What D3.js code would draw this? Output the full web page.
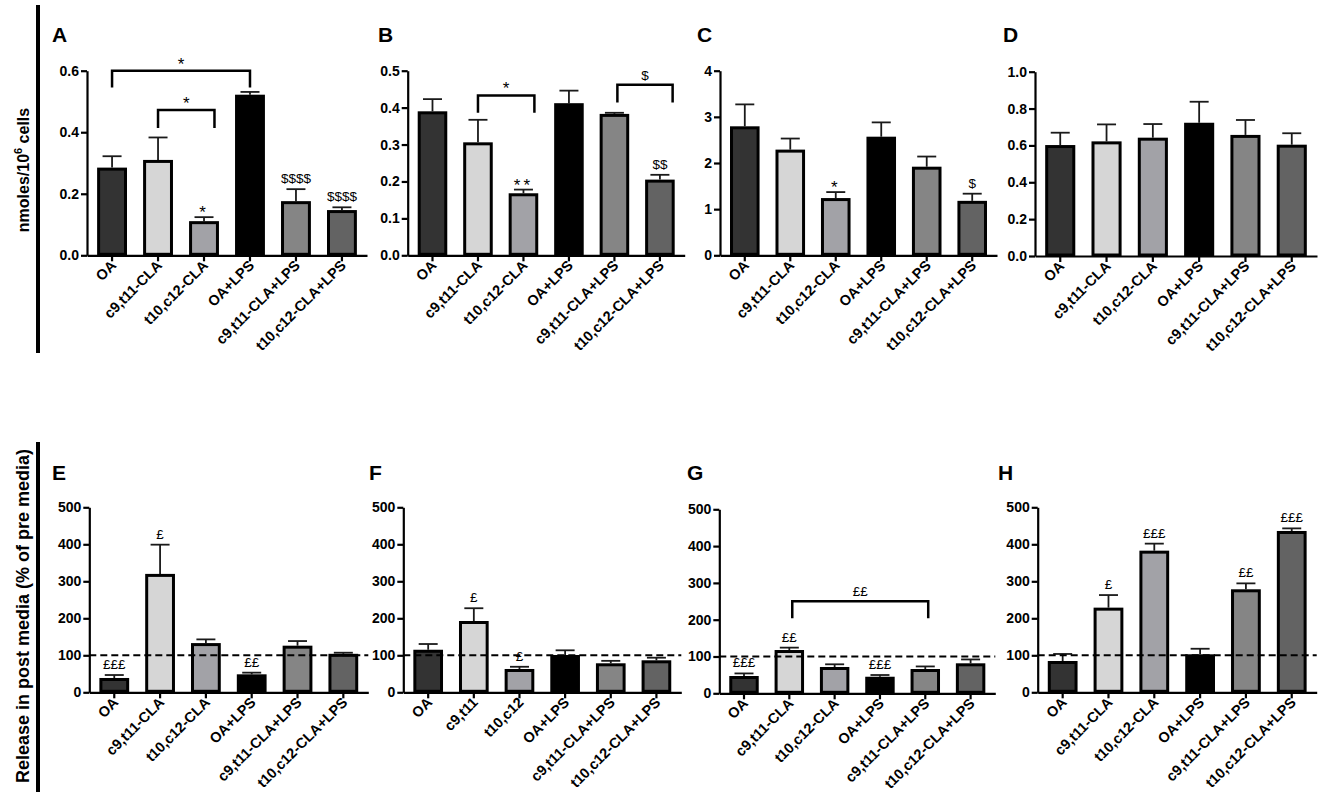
<!DOCTYPE html>
<html>
<head>
<meta charset="utf-8">
<script src="https://cdn.jsdelivr.net/npm/d3@7"></script>
<style>
  body { margin: 0; background: #fff; }
  text { font-family: "Liberation Sans", Arial, sans-serif; fill: #000; }
</style>
</head>
<body>
<div id="chart"></div>
<script>
// categories on the x axes
const categories = ["OA", "c9,t11-CLA", "t10,c12-CLA", "OA+LPS", "c9,t11-CLA+LPS", "t10,c12-CLA+LPS"];
const categoriesF = ["OA", "c9,t11", "t10,c12", "OA+LPS", "c9,t11-CLA+LPS", "t10,c12-CLA+LPS"];

// bar means and SEM (upper whisker) per panel
const meansA = [0.285, 0.31, 0.111, 0.522, 0.176, 0.147];
const semsA  = [0.037, 0.073, 0.013, 0.009, 0.039, 0.009];
const meansB = [0.39, 0.306, 0.168, 0.412, 0.383, 0.205];
const semsB  = [0.033, 0.061, 0.01, 0.034, 0.003, 0.013];
const meansC = [2.795, 2.29, 1.24, 2.57, 1.92, 1.18];
const semsC  = [0.475, 0.24, 0.13, 0.31, 0.22, 0.155];
const meansD = [0.602, 0.622, 0.642, 0.723, 0.657, 0.604];
const semsD  = [0.067, 0.092, 0.074, 0.114, 0.081, 0.062];
const meansE = [38.7, 320, 133, 48.6, 126, 104];
const semsE  = [8, 79, 10, 4.5, 12.5, 3];
const meansF = [115, 192.7, 63, 100.8, 78.4, 86.5];
const semsF  = [15.5, 34.5, 6, 12.7, 6.6, 7];
const meansG = [47, 117.6, 71.5, 45, 66, 81.5];
const semsG  = [7, 6.5, 7.3, 4.7, 7, 10.5];
const meansH = [84.6, 228.8, 382.8, 102.7, 278.4, 436];
const semsH  = [19, 34, 19, 15, 16, 7];

// y tick values
const ticksA = [0, 0.2, 0.4, 0.6];
const ticksB = [0, 0.1, 0.2, 0.3, 0.4, 0.5];
const ticksC = [0, 1, 2, 3, 4];
const ticksD = [0, 0.2, 0.4, 0.6, 0.8, 1.0];
const ticksRelease = [0, 100, 200, 300, 400, 500];

const barColors = ["#333333", "#d6d6d6", "#a2a2a7", "#000000", "#858585", "#636363"];

// significance marks above single bars
const barMarks = [
  { p: "A", i: 2, t: "*" }, { p: "A", i: 4, t: "$$$$" }, { p: "A", i: 5, t: "$$$$" },
  { p: "B", i: 2, t: "**" }, { p: "B", i: 5, t: "$$" },
  { p: "C", i: 2, t: "*" }, { p: "C", i: 5, t: "$" },
  { p: "E", i: 0, t: "£££" }, { p: "E", i: 1, t: "£" }, { p: "E", i: 3, t: "££" },
  { p: "F", i: 1, t: "£" }, { p: "F", i: 2, t: "£" },
  { p: "G", i: 0, t: "£££" }, { p: "G", i: 1, t: "££" }, { p: "G", i: 3, t: "£££" },
  { p: "H", i: 1, t: "£" }, { p: "H", i: 2, t: "£££" }, { p: "H", i: 4, t: "££" }, { p: "H", i: 5, t: "£££" }
];

// comparison brackets: from/to category, bracket level, leg end
const brackets = [
  { p: "A", from: 0, to: 3, top: 0.6, leg: 0.545, t: "*" },
  { p: "A", from: 1, to: 2, top: 0.472, leg: 0.414, t: "*", nudgeTo: 0.35 },
  { p: "B", from: 1, to: 2, top: 0.433, leg: 0.386, t: "*", nudgeTo: 0.37 },
  { p: "B", from: 4, to: 5, top: 0.462, leg: 0.414, t: "$", nudgeFrom: 0.1, nudgeTo: 0.43 },
  { p: "G", from: 1, to: 4, top: 250, leg: 204, t: "££", nudgeFrom: 0.1, nudgeTo: 0.1 }
];

const panelData = [
  { id: "A", cats: categories,  means: meansA, sems: semsA, ticks: ticksA, fmt: ".1f" },
  { id: "B", cats: categories,  means: meansB, sems: semsB, ticks: ticksB, fmt: ".1f" },
  { id: "C", cats: categories,  means: meansC, sems: semsC, ticks: ticksC, fmt: "d" },
  { id: "D", cats: categories,  means: meansD, sems: semsD, ticks: ticksD, fmt: ".1f" },
  { id: "E", cats: categories,  means: meansE, sems: semsE, ticks: ticksRelease, fmt: "d", ref: 100 },
  { id: "F", cats: categoriesF, means: meansF, sems: semsF, ticks: ticksRelease, fmt: "d", ref: 100 },
  { id: "G", cats: categories,  means: meansG, sems: semsG, ticks: ticksRelease, fmt: "d", ref: 100 },
  { id: "H", cats: categories,  means: meansH, sems: semsH, ticks: ticksRelease, fmt: "d", ref: 100 }
];

// layout (pixels): axis origin, x-axis length, baseline and top of y axis, panel letter position
const layout = {
  A: { x0: 87,    len: 280, y0: 255.3, y1: 70.7,  lx: 52,  ly: 42 },
  B: { x0: 407.7, len: 277, y0: 255.3, y1: 70.7,  lx: 378, ly: 42 },
  C: { x0: 720,   len: 277, y0: 255.3, y1: 70.7,  lx: 697, ly: 42 },
  D: { x0: 1035,  len: 282, y0: 256,   y1: 71.7,  lx: 1003, ly: 42 },
  E: { x0: 89.3,  len: 279, y0: 692.3, y1: 507.3, lx: 52,  ly: 480 },
  F: { x0: 403.3, len: 278, y0: 692.3, y1: 507.3, lx: 369, ly: 480 },
  G: { x0: 719.3, len: 276, y0: 693.3, y1: 509.3, lx: 687, ly: 480 },
  H: { x0: 1037.7, len: 279, y0: 692.3, y1: 507.3, lx: 998, ly: 480 }
};

const width = 1325, height = 800;
const tickFont = "14px";
const catFont = "14.5px";

const svg = d3.select("#chart").append("svg")
  .attr("width", width)
  .attr("height", height);

// vertical separator bars and row titles
svg.append("rect").attr("x", 36).attr("y", 5).attr("width", 4).attr("height", 348).attr("fill", "#000");
svg.append("rect").attr("x", 36).attr("y", 442).attr("width", 4).attr("height", 350).attr("fill", "#000");

const t1 = svg.append("text")
  .attr("transform", "translate(29,170) rotate(-90)")
  .attr("text-anchor", "middle")
  .style("font-size", "16px").style("font-weight", "bold");
t1.append("tspan").text("nmoles/10");
t1.append("tspan").attr("dy", -7).style("font-size", "11px").text("6");
t1.append("tspan").attr("dy", 7).text(" cells");

svg.append("text")
  .attr("transform", "translate(29,616) rotate(-90)")
  .attr("text-anchor", "middle")
  .style("font-size", "18px").style("font-weight", "bold")
  .text("Release in post media (% of pre media)");

const scales = {};

panelData.forEach(function (pd) {
  const L = layout[pd.id];
  const x = d3.scaleBand().domain(pd.cats).range([L.x0, L.x0 + L.len])
    .paddingInner(0.35).paddingOuter(0.22);
  const y = d3.scaleLinear().domain([0, d3.max(pd.ticks)]).range([L.y0, L.y1]);
  scales[pd.id] = { x: x, y: y, pd: pd };

  const g = svg.append("g");

  // panel letter
  g.append("text")
    .attr("x", L.lx).attr("y", L.ly)
    .style("font-size", "21px").style("font-weight", "bold")
    .text(pd.id);

  const rows = pd.cats.map(function (c, i) {
    return { cat: c, mean: pd.means[i], sem: pd.sems[i], color: barColors[i] };
  });

  // error whiskers
  const cx = function (d) { return x(d.cat) + x.bandwidth() / 2; };
  g.selectAll(".err").data(rows).enter().append("line")
    .attr("x1", cx).attr("x2", cx)
    .attr("y1", function (d) { return y(d.mean); })
    .attr("y2", function (d) { return y(d.mean + d.sem); })
    .attr("stroke", "#1a1a1a").attr("stroke-width", 1.8);
  g.selectAll(".cap").data(rows).enter().append("line")
    .attr("x1", function (d) { return cx(d) - 9.5; })
    .attr("x2", function (d) { return cx(d) + 9.5; })
    .attr("y1", function (d) { return y(d.mean + d.sem); })
    .attr("y2", function (d) { return y(d.mean + d.sem); })
    .attr("stroke", "#1a1a1a").attr("stroke-width", 1.8);

  // bars
  g.selectAll(".bar").data(rows).enter().append("rect")
    .attr("x", function (d) { return x(d.cat) + 1.5; })
    .attr("y", function (d) { return y(d.mean) + 1.5; })
    .attr("width", x.bandwidth() - 3)
    .attr("height", function (d) { return Math.max(0, y(0) - y(d.mean) - 2.5); })
    .attr("fill", function (d) { return d.color; })
    .attr("stroke", "#000").attr("stroke-width", 3);

  // reference line at 100 %
  if (pd.ref) {
    g.append("line")
      .attr("x1", L.x0).attr("x2", L.x0 + L.len)
      .attr("y1", y(pd.ref)).attr("y2", y(pd.ref))
      .attr("stroke", "#000").attr("stroke-width", 2)
      .attr("stroke-dasharray", "7,4");
  }

  // y axis
  const yAxis = g.append("g")
    .attr("transform", "translate(" + L.x0 + ",0)")
    .call(d3.axisLeft(y).tickValues(pd.ticks).tickFormat(d3.format(pd.fmt))
      .tickSize(6).tickSizeOuter(0).tickPadding(2));
  yAxis.select(".domain").attr("stroke-width", 2.2);
  yAxis.selectAll(".tick line").attr("stroke-width", 2.2);
  yAxis.selectAll("text").attr("fill", "#000")
    .style("font-size", tickFont).style("font-weight", "bold")
    .style("font-family", "'Liberation Sans', Arial, sans-serif");

  // x axis
  const xAxis = g.append("g")
    .attr("transform", "translate(0," + L.y0 + ")")
    .call(d3.axisBottom(x).tickSize(6).tickSizeOuter(0));
  xAxis.select(".domain").attr("stroke-width", 2.2);
  xAxis.selectAll(".tick line").attr("stroke-width", 2.2);
  xAxis.selectAll("text")
    .attr("x", 0).attr("y", 0).attr("dy", null)
    .attr("transform", "translate(5,11) rotate(-45)")
    .style("text-anchor", "end")
    .attr("fill", "#000")
    .style("font-size", catFont).style("font-weight", "bold")
    .style("font-family", "'Liberation Sans', Arial, sans-serif");
});

// marks above single bars
barMarks.forEach(function (m) {
  const s = scales[m.p];
  const top = s.y(s.pd.means[m.i] + s.pd.sems[m.i]);
  const star = m.t.indexOf("*") >= 0;
  svg.append("text")
    .attr("x", s.x(s.pd.cats[m.i]) + s.x.bandwidth() / 2)
    .attr("y", star ? top + 1 : top - 6)
    .attr("text-anchor", "middle")
    .attr("fill", "#000")
    .style("font-size", star ? "17px" : "13.5px")
    .style("letter-spacing", star ? "3px" : "0px")
    .text(m.t);
});

// brackets
brackets.forEach(function (b) {
  const s = scales[b.p];
  const bw = s.x.bandwidth();
  const xa = s.x(s.pd.cats[b.from]) + bw / 2 + (b.nudgeFrom || 0) * bw;
  const xb = s.x(s.pd.cats[b.to]) + bw / 2 + (b.nudgeTo || 0) * bw;
  const yt = s.y(b.top), yl = s.y(b.leg);
  svg.append("path")
    .attr("d", "M" + xa + "," + yl + "V" + yt + "H" + xb + "V" + yl)
    .attr("fill", "none").attr("stroke", "#000").attr("stroke-width", 2.5);
  const star = b.t.indexOf("*") >= 0;
  svg.append("text")
    .attr("x", (xa + xb) / 2)
    .attr("y", star ? yt - 1 : yt - 5)
    .attr("text-anchor", "middle")
    .attr("fill", "#000")
    .style("font-size", star ? "17px" : "13.5px")
    .text(b.t);
});
</script>
</body>
</html>
